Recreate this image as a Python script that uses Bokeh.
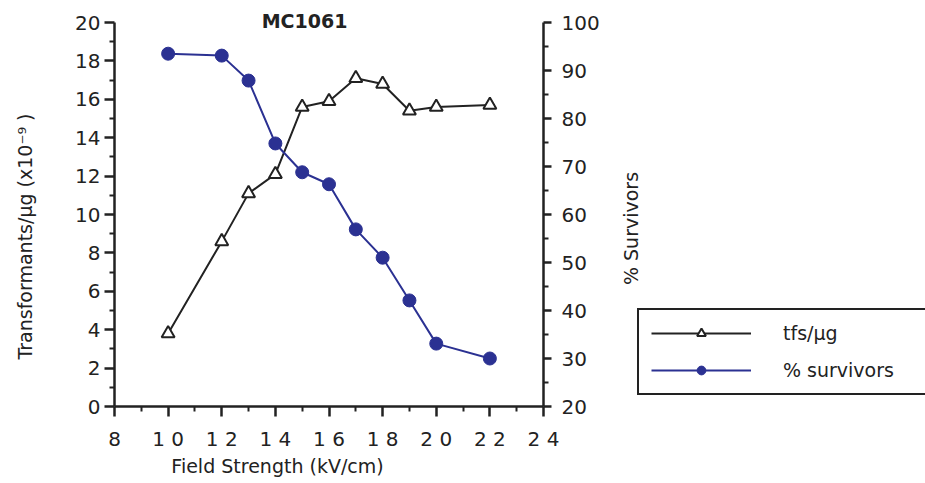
from bokeh.plotting import figure
from bokeh.models import Range1d, LinearAxis, Legend, LegendItem, Label, FixedTicker
from bokeh.embed import file_html
from bokeh.resources import INLINE
import math

# data
field_kv = [10, 12, 13, 14, 15, 16, 17, 18, 19, 20, 22]
tfs_per_ug = [3.8, 8.6, 11.1, 12.1, 15.6, 15.9, 17.1, 16.8, 15.4, 15.6, 15.7]
pct_survivors = [93.5, 93.1, 87.9, 74.8, 68.8, 66.3, 56.9, 51.0, 42.1, 33.1, 30.0]

x_ticks = [8, 10, 12, 14, 16, 18, 20, 22, 24]
x_tick_labels = ["8", "1 0", "1 2", "1 4", "1 6", "1 8", "2 0", "2 2", "2 4"]
left_ticks = [0, 2, 4, 6, 8, 10, 12, 14, 16, 18, 20]
right_ticks = [20, 30, 40, 50, 60, 70, 80, 90, 100]

title_text = "MC1061"
x_label = "Field Strength (kV/cm)"
y_label = "Transformants/\u03bcg (x10\u207b\u2079 )"
y2_label = "% Survivors"
series_names = ["tfs/\u03bcg", "% survivors"]

INK = "#222222"
BLUE = "#2B3192"
FONT = "DejaVu Sans"

# canvas and where the axes box sits on it (pixels)
W, H = 925, 483
AX_L, AX_R, AX_T, AX_B = 114, 543, 22, 406
X0, X1 = x_ticks[0], x_ticks[-1]
Y0, Y1 = left_ticks[0], left_ticks[-1]
R0, R1 = right_ticks[0], right_ticks[-1]

def span(lo, hi, plo, phi, total, invert=False):
    k = (hi - lo) / (phi - plo)
    if invert:  # pixel grows downward
        return Range1d(lo - (total - phi) * k, hi + plo * k)
    return Range1d(lo - plo * k, hi + (total - phi) * k)

p = figure(width=W, height=H, x_range=span(X0, X1, AX_L, AX_R, W),
           y_range=span(Y0, Y1, AX_T, AX_B, H, invert=True),
           output_backend="svg", toolbar_location=None,
           min_border_left=0, min_border_right=0, min_border_top=0, min_border_bottom=0)
p.outline_line_color = None
p.grid.visible = False
p.extra_y_ranges = {"surv": span(R0, R1, AX_T, AX_B, H, invert=True)}
p.add_layout(LinearAxis(y_range_name="surv"), "right")

def style_axis(ax):
    ax.axis_line_width = 2.5
    ax.axis_line_color = INK
    ax.major_tick_line_width = 2.5
    ax.major_tick_line_color = INK
    ax.minor_tick_line_width = 2
    ax.minor_tick_line_color = INK
    ax.major_tick_in = 0
    ax.major_tick_out = 10
    ax.minor_tick_in = 0
    ax.minor_tick_out = 5
    ax.major_label_text_font = FONT
    ax.major_label_text_font_size = "20px"
    ax.major_label_text_color = INK

xa = p.xaxis[0]
style_axis(xa)
xa.fixed_location = Y0
xa.bounds = (X0, X1)
xa.ticker = FixedTicker(ticks=x_ticks, minor_ticks=[t + 1 for t in x_ticks[:-1]])
xa.major_label_overrides = {t: s for t, s in zip(x_ticks, x_tick_labels)}
xa.major_label_standoff = 10

ya = p.yaxis[0]
style_axis(ya)
ya.fixed_location = X0
ya.bounds = (Y0, Y1)
ya.ticker = FixedTicker(ticks=left_ticks, minor_ticks=[t + 1 for t in left_ticks[:-1]])
ya.major_label_standoff = 4

ya2 = p.yaxis[1]
style_axis(ya2)
ya2.fixed_location = X1
ya2.bounds = (R0, R1)
ya2.ticker = FixedTicker(ticks=right_ticks, minor_ticks=[t + 5 for t in right_ticks[:-1]])
ya2.major_label_standoff = 10
ya2.major_tick_out = 8

l1 = p.line(field_kv, tfs_per_ug, line_color=INK, line_width=2)
s1 = p.scatter(field_kv, tfs_per_ug, marker="triangle", size=13, fill_color="white",
               line_color=INK, line_width=2)
l2 = p.line(field_kv, pct_survivors, line_color=BLUE, line_width=2, y_range_name="surv")
s2 = p.scatter(field_kv, pct_survivors, marker="circle", size=13, fill_color=BLUE,
               line_color=BLUE, y_range_name="surv")

legend = Legend(items=[LegendItem(label=series_names[0], renderers=[l1, s1]),
                       LegendItem(label=series_names[1], renderers=[l2, s2])],
                location=(637, H - 395), orientation="vertical",
                glyph_width=100, glyph_height=22, label_height=22, label_width=200,
                label_standoff=32, spacing=15, padding=12, margin=0,
                border_line_color=INK, border_line_width=2.5, border_line_alpha=1.0,
                label_text_font=FONT, label_text_font_size="19px", label_text_color=INK,
                background_fill_alpha=0)
p.add_layout(legend, "center")

def sx(px):
    r = p.x_range
    return r.start + (px) * (r.end - r.start) / W

def sy(py):
    r = p.y_range
    return r.end - (py) * (r.end - r.start) / H

p.add_layout(Label(x=sx(304), y=sy(20), text=title_text, text_font=FONT, text_font_size="19px",
                   text_font_style="bold", text_align="center", text_baseline="middle",
                   text_color=INK))
p.add_layout(Label(x=sx(277), y=sy(465), text=x_label, text_font=FONT, text_font_size="19px",
                   text_align="center", text_baseline="middle", text_color=INK))
p.add_layout(Label(x=sx(24), y=sy(236), text=y_label, text_font=FONT, text_font_size="19px",
                   text_align="center", text_baseline="middle", angle=math.pi / 2,
                   text_color=INK))
p.add_layout(Label(x=sx(630), y=sy(228), text=y2_label, text_font=FONT, text_font_size="19px",
                   text_align="center", text_baseline="middle", angle=math.pi / 2,
                   text_color=INK))

open("out.html", "w").write(file_html(p, INLINE))
